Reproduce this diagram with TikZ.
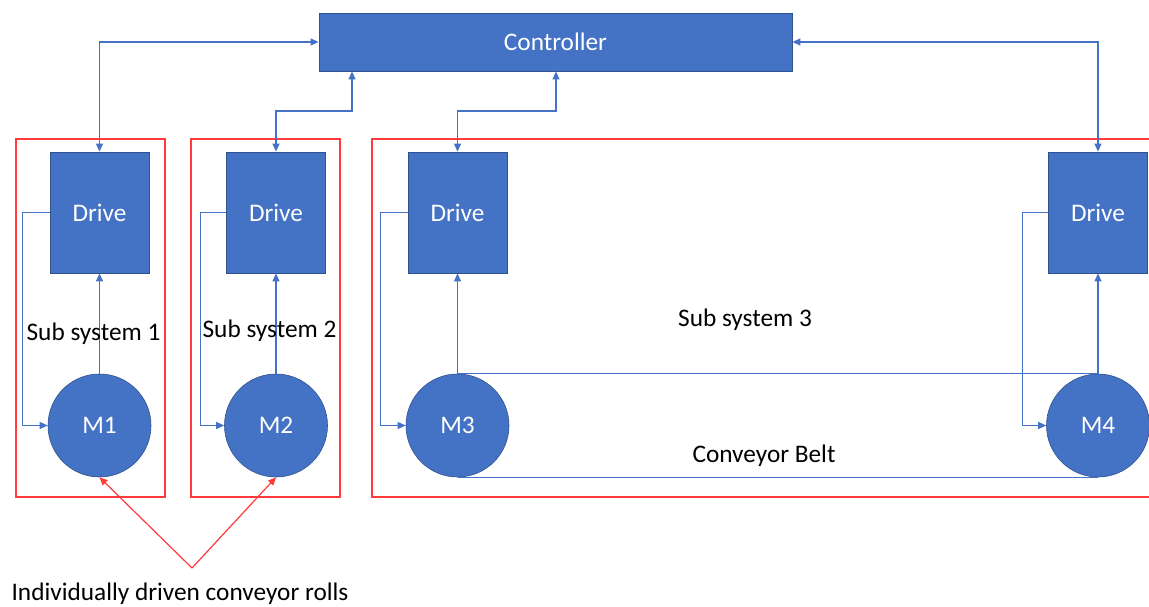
\documentclass[tikz,border=0pt]{standalone}
\usepackage{fontspec}
\setmainfont{Carlito}
\usetikzlibrary{arrows.meta}
\definecolor{boxblue}{HTML}{4472C4}
\definecolor{edgeblue}{HTML}{2F528F}
\definecolor{linkblue}{HTML}{4472C4}
\definecolor{groupred}{HTML}{FF3B3B}
\tikzset{
  txt/.style={font=\fontsize{25.3}{30}\selectfont},
  ctrlbox/.style={txt, draw=edgeblue, line width=0.8pt, fill=boxblue, text=white,
    minimum width=473pt, minimum height=58pt, inner sep=0pt},
  drivebox/.style={txt, draw=edgeblue, line width=0.8pt, fill=boxblue, text=white,
    minimum width=99pt, minimum height=121pt, inner sep=0pt},
  motor/.style={txt, circle, draw=edgeblue, line width=0.6pt, fill=boxblue, text=white,
    minimum size=103pt, inner sep=0pt},
  conn/.style={draw=linkblue, line width=1.2pt},
  tip/.style={-{Triangle[length=8pt,width=7pt]}},
  bitip/.style={{Triangle[length=8pt,width=7pt]}-{Triangle[length=8pt,width=7pt]}},
  group/.style={draw=groupred, line width=1.5pt},
  lbl/.style={txt, anchor=base, inner sep=0pt},
}
\begin{document}
\begin{tikzpicture}[x=1pt,y=-1pt]
\useasboundingbox (0,0) rectangle (1149,607);

% subsystem frames
\draw[group] (16,139) rectangle (165,497);
\draw[group] (191,139) rectangle (340,497);
\draw[group] (1152,139) -- (372,139) -- (372,497) -- (1152,497);

% controller, drives and motors
\node[ctrlbox] (ctrl) at (555.5,42) {Controller};
\node[drivebox] (d1) at (99.5,212.5) {Drive};
\node[drivebox] (d2) at (276,212.5) {Drive};
\node[drivebox] (d3) at (457.5,212.5) {Drive};
\node[drivebox] (d4) at (1098,212.5) {Drive};
\node[motor] (m1) at (99.5,425.5) {M1};
\node[motor] (m2) at (276,425.5) {M2};
\node[motor] (m3) at (457.5,425.5) {M3};
\node[motor] (m4) at (1098,425.5) {M4};

% conveyor belt between M3 and M4
\draw[conn] (m3.north) -- (m4.north);
\draw[conn] (m3.south) -- (m4.south);

% drive <-> controller links
\draw[conn, bitip] (d1.north) |- (ctrl.west);
\draw[conn, bitip] (d2.north) |- (352,111) -- (ctrl.south -| 352,0);
\draw[conn, bitip] (d3.north) |- (556,111) -- (ctrl.south -| 556,0);
\draw[conn, bitip] (d4.north) |- (ctrl.east);

% drive -> motor commands
\draw[conn, tip] (d1.west) -- ++(-27,0) |- (m1.west);
\draw[conn, tip] (d2.west) -- ++(-26,0) |- (m2.west);
\draw[conn, tip] (d3.west) -- ++(-27,0) |- (m3.west);
\draw[conn, tip] (d4.west) -- ++(-26,0) |- (m4.west);

% motor -> drive feedback
\draw[conn, tip] (m1.north) -- (d1.south);
\draw[conn, tip] (m2.north) -- (d2.south);
\draw[conn, tip] (m3.north) -- (d3.south);
\draw[conn, tip] (m4.north) -- (d4.south);

% labels
\node[lbl] (s1) at (93.5,340) {Sub system 1};
\node[lbl] (s2) at (269.5,337) {Sub system 2};
\node[lbl] (s3) at (745,326) {Sub system 3};
\node[lbl] (belt) at (764,462) {Conveyor Belt};
\node[lbl] (rolls) at (180,600) {Individually driven conveyor rolls};

% pointers to the individually driven rolls
\coordinate (fork) at (192,568);
\draw[group, line width=1.2pt, -{Triangle[length=8pt,width=7pt]}] (fork) -- (m1.south);
\draw[group, line width=1.2pt, -{Triangle[length=8pt,width=7pt]}] (fork) -- (m2.south);
\end{tikzpicture}
\end{document}
